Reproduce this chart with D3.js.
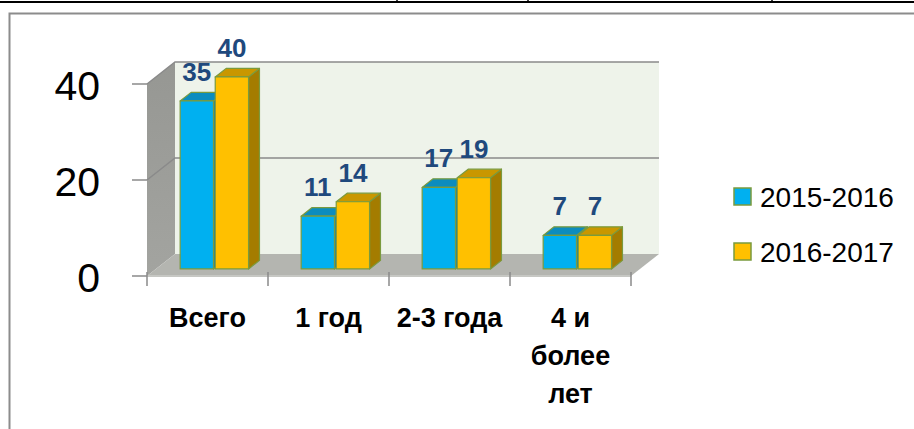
<!DOCTYPE html>
<html>
<head>
<meta charset="utf-8">
<script src="https://cdn.jsdelivr.net/npm/d3@7"></script>
<style>
  body { margin: 0; background: #fff; }
  svg { display: block; font-family: "Liberation Sans", Arial, sans-serif; }
</style>
</head>
<body>
<div id="chart"></div>
<script>
// data
const categories = ["Всего", "1 год", "2-3 года", "4 и более лет"];
const seriesNames = ["2015-2016", "2016-2017"];
const values2015 = [35, 11, 17, 7];
const values2016 = [40, 14, 19, 7];
const yTicks = [0, 20, 40];

const width = 914, height = 429;

// colours: front, top, side
const colors = {
  "2015-2016": { front: "#00B0F0", top: "#0C8CBE", side: "#0A7FAE" },
  "2016-2017": { front: "#FFC000", top: "#C99700", side: "#A47C00" }
};

const svg = d3.select("#chart").append("svg")
  .attr("width", width)
  .attr("height", height);

// page lines behind the chart (table border above)
svg.append("line")
  .attr("x1", 0).attr("x2", width).attr("y1", 2).attr("y2", 2)
  .attr("stroke", "#000").attr("stroke-width", 2);
[397, 528, 772].forEach(x => {
  svg.append("line")
    .attr("x1", x).attr("x2", x).attr("y1", 0).attr("y2", 3)
    .attr("stroke", "#000").attr("stroke-width", 1.5);
});

// chart frame
svg.append("path")
  .attr("d", `M9.5,${height} L9.5,13.5 L${width},13.5`)
  .attr("fill", "none")
  .attr("stroke", "#8c8c8c")
  .attr("stroke-width", 2);

// 3d geometry: front plane + depth vector
const depth = { dx: 28, dy: -22 };
const x0 = d3.scaleBand().domain(categories).range([147, 631]);
const yScale = d3.scaleLinear().domain([0, 40]).range([276, 84]);
const x1 = d3.scaleBand().domain(seriesNames)
  .range([0, x0.bandwidth()])
  .paddingInner(0.05).paddingOuter(0.75).align(0.46);

const P = (x, v, d) => [x + d * depth.dx, yScale(v) + d * depth.dy];
const poly = pts => "M" + pts.map(p => p.join(",")).join("L") + "Z";

const xL = x0.range()[0], xR = x0.range()[1];
const yTop = yScale.domain()[1];

// back wall
svg.append("path")
  .attr("d", poly([P(xL, yTop, 1), P(xR, yTop, 1), P(xR, 0, 1), P(xL, 0, 1)]))
  .attr("fill", "#EEF3EA");

// side wall
const wallGrad = svg.append("defs").append("linearGradient")
  .attr("id", "wall").attr("x1", 0).attr("x2", 0).attr("y1", 0).attr("y2", 1);
wallGrad.append("stop").attr("offset", "0%").attr("stop-color", "#969793");
wallGrad.append("stop").attr("offset", "100%").attr("stop-color", "#a3a4a0");
svg.append("path")
  .attr("d", poly([P(xL, yTop, 0), P(xL, yTop, 1), P(xL, 0, 1), P(xL, 0, 0)]))
  .attr("fill", "url(#wall)");

// floor
svg.append("path")
  .attr("d", poly([P(xL, 0, 0), P(xL, 0, 1), P(xR, 0, 1), P(xR, 0, 0)]))
  .attr("fill", "#B4B5B0");
svg.append("line")
  .attr("x1", xL).attr("x2", xR).attr("y1", yScale(0)).attr("y2", yScale(0))
  .attr("stroke", "#c6c7c3").attr("stroke-width", 2);

// gridlines on back and side walls
yTicks.filter(v => v > 0).forEach(v => {
  svg.append("path")
    .attr("d", "M" + [P(xL, v, 0), P(xL, v, 1), P(xR, v, 1)].map(p => p.join(",")).join("L"))
    .attr("fill", "none")
    .attr("stroke", "#8a8a8a")
    .attr("stroke-width", 1.5);
});

// y axis ticks and labels
yTicks.forEach(v => {
  svg.append("line")
    .attr("x1", xL - 15).attr("x2", xL).attr("y1", yScale(v)).attr("y2", yScale(v))
    .attr("stroke", "#8a8a8a").attr("stroke-width", 1.5);
  svg.append("text")
    .attr("x", 100).attr("y", yScale(v) + 16)
    .attr("text-anchor", "end")
    .attr("font-size", 41)
    .attr("fill", "#000")
    .text(v);
});

// x axis ticks at band boundaries
const boundaries = categories.map(c => x0(c)).concat([xR]);
boundaries.forEach(x => {
  svg.append("line")
    .attr("x1", x).attr("x2", x).attr("y1", yScale(0) - 4).attr("y2", yScale(0) + 10)
    .attr("stroke", "#8a8a8a").attr("stroke-width", 1.5);
});

// bars
const dF = 0.32, dB = 0.71;
const rows = categories.map((c, i) => ({
  cat: c,
  bars: [
    { name: seriesNames[0], value: values2015[i] },
    { name: seriesNames[1], value: values2016[i] }
  ]
}));

rows.forEach(row => {
  row.bars.forEach(b => {
    const xa = x0(row.cat) + x1(b.name);
    const xb = xa + x1.bandwidth();
    const c = colors[b.name];
    const g = svg.append("g")
      .attr("stroke", "#7A9A3E")
      .attr("stroke-width", 1.2)
      .attr("stroke-linejoin", "round");
    // side face
    g.append("path")
      .attr("d", poly([P(xb, b.value, dF), P(xb, b.value, dB), P(xb, 0, dB), P(xb, 0, dF)]))
      .attr("fill", c.side);
    // top face
    g.append("path")
      .attr("d", poly([P(xa, b.value, dF), P(xa, b.value, dB), P(xb, b.value, dB), P(xb, b.value, dF)]))
      .attr("fill", c.top);
    // front face
    const tl = P(xa, b.value, dF), br = P(xb, 0, dF);
    g.append("rect")
      .attr("x", tl[0]).attr("y", tl[1])
      .attr("width", br[0] - tl[0]).attr("height", br[1] - tl[1])
      .attr("fill", c.front);
    b.labelX = (tl[0] + br[0]) / 2;
    b.labelY = tl[1] - 20;
  });
});

// data labels
rows.forEach(row => {
  row.bars.forEach(b => {
    svg.append("text")
      .attr("x", b.labelX).attr("y", b.labelY)
      .attr("text-anchor", "middle")
      .attr("font-size", 26)
      .attr("font-weight", "bold")
      .attr("fill", "#1F497D")
      .text(b.value);
  });
});

// category labels with word wrap
const maxW = 116;
categories.forEach(c => {
  const t = svg.append("text")
    .attr("text-anchor", "middle")
    .attr("font-size", 27)
    .attr("font-weight", "bold")
    .attr("fill", "#000");
  const cx = x0(c) + x0.bandwidth() / 2;
  const words = c.split(" ");
  let lines = [], line = [];
  const probe = t.append("tspan");
  words.forEach(w => {
    line.push(w);
    probe.text(line.join(" "));
    if (probe.node().getComputedTextLength() > maxW && line.length > 1) {
      line.pop();
      lines.push(line.join(" "));
      line = [w];
    }
  });
  lines.push(line.join(" "));
  probe.remove();
  lines.forEach((l, k) => {
    t.append("tspan").attr("x", cx).attr("y", 327 + k * 38).text(l);
  });
});

// legend
const legend = svg.append("g").attr("transform", "translate(734,188)");
seriesNames.forEach((s, i) => {
  const g = legend.append("g").attr("transform", `translate(0,${i * 55})`);
  g.append("rect")
    .attr("width", 17).attr("height", 17)
    .attr("fill", colors[s].front)
    .attr("stroke", "#7A9A3E").attr("stroke-width", 1.5);
  g.append("text")
    .attr("x", 26).attr("y", 19)
    .attr("font-size", 28)
    .attr("fill", "#000")
    .text(s);
});
</script>
</body>
</html>
